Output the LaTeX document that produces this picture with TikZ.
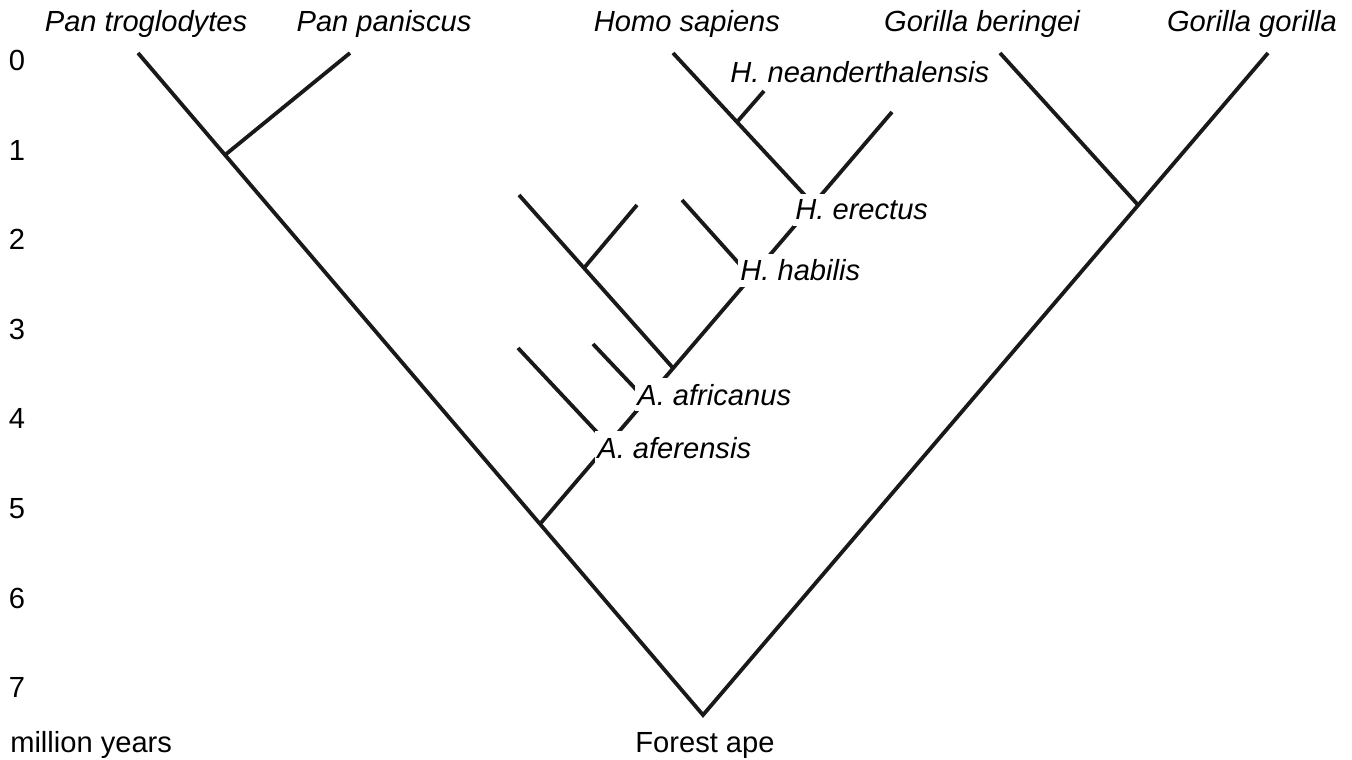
\documentclass[tikz,border=0pt]{standalone}
\usepackage{fontspec}
\setmainfont{Liberation Sans}
\usepackage{tikz}
\usetikzlibrary{positioning}

\begin{document}
\begin{tikzpicture}[x=0.025cm, y=-0.025cm,
		branch/.style={line width=2.7pt, black!90},
		species/.style={font=\fontsize{20.7}{24}\selectfont\itshape, inner sep=0pt, anchor=base},
		fossil/.style={font=\fontsize{20.7}{24}\selectfont\itshape, fill=white, inner xsep=1.5pt, inner ysep=4pt, anchor=base west},
		plain/.style={font=\fontsize{20.7}{24}\selectfont, inner sep=0pt}]
				\useasboundingbox (0,0) rectangle (1352,760);
				% tips and forks
				\coordinate (root) at (703,715);
				\coordinate (ptro) at (138,53);
				\coordinate (ppan) at (350,53);
				\coordinate (panj) at (225,155);
				\coordinate (gber) at (1000,53);
				\coordinate (ggor) at (1268,53);
				\coordinate (gorj) at (1138,205);
				\coordinate (homj) at (540,524);
				\coordinate (htop) at (892,112);
				\coordinate (afej) at (608,444);
				\coordinate (afrj) at (646,400);
				\coordinate (parj) at (673,368);
				\coordinate (habj) at (751,277);
				\coordinate (erej) at (813,204);
				\coordinate (afe) at (518,348);
				\coordinate (afr) at (593,344);
				\coordinate (par) at (519,195);
				\coordinate (parb) at (584,268);
				\coordinate (parc) at (637,205);
				\coordinate (hab) at (682,200);
				\coordinate (hsap) at (673,53);
				\coordinate (neaj) at (737,122);
				\coordinate (nea) at (764,91);
				\draw[branch] (ptro) -- (root) -- (ggor);
				\draw[branch] (panj) -- (ppan);
				\draw[branch] (gorj) -- (gber);
				\draw[branch] (homj) -- (htop);
				\draw[branch] (afe) -- (afej);
				\draw[branch] (afr) -- (afrj);
				\draw[branch] (par) -- (parj);
				\draw[branch] (parb) -- (parc);
				\draw[branch] (hab) -- (habj);
				\draw[branch] (hsap) -- (erej);
				\draw[branch] (neaj) -- (nea);
				% names on top
				\node[species] (lptro) at (146,32) {Pan troglodytes};
				\node[species] (lppan) at (384,32) {Pan paniscus};
				\node[species] (lhsap) at (687,32) {Homo sapiens};
				\node[species] (lgber) at (982,32) {Gorilla beringei};
				\node[species] (lggor) at (1252,32) {Gorilla gorilla};
				\node[fossil, fill=none] (lnea) at (728,83) {H. neanderthalensis};
				\node[fossil] (lere) at (793,220) {H. erectus};
				\node[fossil] (lhab) at (738,281) {H. habilis};
				\node[fossil] (lafr) at (635,405) {A. africanus};
				\node[fossil] (lafe) at (595,458) {A. aferensis};
				% time axis
				\foreach \n in {0,...,7}
					\node[plain] (t\n) at (17,{60.5+89.6*\n}) {\n};
				\node[plain, anchor=base west] (unit) at (10,752) {million years};
				\node[plain, anchor=base] (fape) at (705,752) {Forest ape};
			\end{tikzpicture}
\end{document}
